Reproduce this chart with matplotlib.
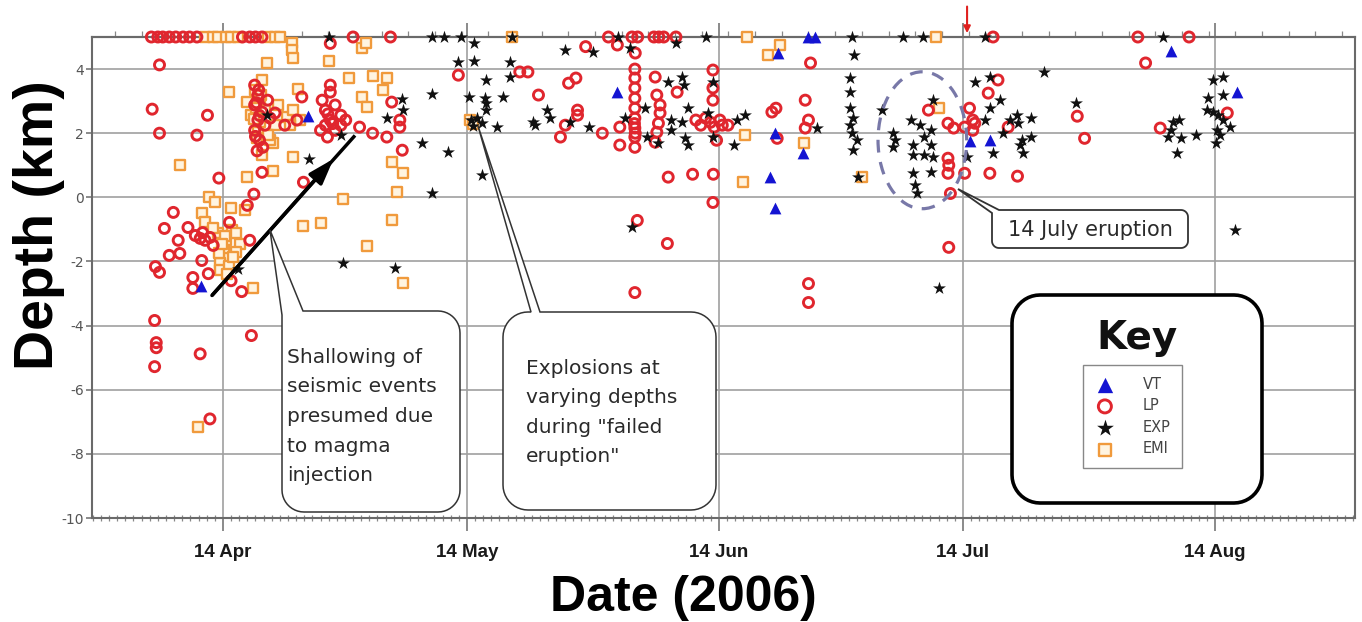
import numpy as np
import pandas as pd
import matplotlib
matplotlib.use("Agg")
import matplotlib.pyplot as plt
from matplotlib.patches import Polygon, Ellipse
from matplotlib.ticker import MultipleLocator

plt.rcParams["axes.unicode_minus"] = False

# dates are stored as days after 14 April 2006, depths in km
start = pd.Timestamp("2006-04-14")

vt_events = [
    (10.4, 2.55), (-2.75, -2.75), (48.45, 3.3), (68.2, 4.5), (72.0, 5.0), (72.8, 5.0),
    (67.9, 2.0), (71.3, 1.38), (67.3, 0.63), (67.9, -0.34), (94.3, 1.78), (91.9, 1.75),
    (116.55, 4.55), (124.75, 3.28),
]

lp_events = [
    (-8.8, 5), (-8.0, 5), (-7.4, 5), (-6.6, 5), (-5.8, 5), (-4.9, 5), (-4.1, 5), (-3.2, 5),
    (2.4, 5), (3.3, 5), (4.0, 5), (4.8, 5), (16.0, 5), (20.6, 5),
    (47.4, 5), (50.3, 5), (51.0, 5), (53.0, 5), (53.6, 5), (54.2, 5), (55.7, 5),
    (94.7, 5), (112.5, 5), (118.8, 5),
    (13.2, 4.8), (48.5, 4.75), (44.6, 4.7), (50.7, 4.5),
    (-7.8, 4.13), (-8.7, 2.75), (-1.9, 2.56), (-7.8, 2.0), (-3.2, 1.94), (-0.5, 0.6),
    (4.8, 0.78), (3.8, 0.1), (9.9, 0.47),
    (-6.1, -0.47), (-7.2, -0.97), (-4.3, -0.94), (-5.5, -1.34), (0.8, -0.78), (3.0, -0.25),
    (3.3, -1.34), (-6.6, -1.81), (-5.3, -1.75), (-2.6, -1.97), (-8.3, -2.16), (-7.8, -2.34),
    (-3.7, -2.5), (-1.8, -2.38), (1.0, -2.6), (2.3, -2.94), (-3.7, -2.84), (-8.4, -3.84),
    (3.5, -4.31), (-8.2, -4.53), (-8.2, -4.69), (-8.4, -5.28), (-2.8, -4.88), (-1.6, -6.91),
    (-3.4, -1.19), (-2.8, -1.28), (-2.2, -1.34), (-1.6, -1.25), (-1.2, -1.5), (-2.5, -1.1),
    (13.2, 3.5), (9.7, 3.13), (13.2, 3.28),
    (12.2, 3.03), (12.6, 2.72), (13.2, 2.41), (13.8, 2.88), (14.5, 2.56), (12.6, 2.25),
    (13.8, 2.09), (14.5, 2.25), (12.0, 2.09), (15.1, 2.41), (12.9, 2.6), (13.5, 2.3),
    (12.85, 1.88), (16.8, 2.19), (18.4, 2.0), (20.15, 1.88), (20.75, 2.97), (21.75, 2.41),
    (21.75, 2.19), (22.05, 1.47), (28.95, 3.81),
    (3.9, 3.5), (4.3, 3.19), (3.9, 2.88), (4.8, 2.66), (4.3, 2.41), (5.15, 2.25), (3.9, 2.09),
    (4.5, 1.78), (4.9, 1.56), (5.8, 2.47), (5.5, 3.03), (6.4, 2.63), (9.1, 2.41), (7.6, 2.25),
    (4.1, 2.95), (4.5, 2.55), (4.0, 1.9), (4.4, 3.35), (4.2, 1.45),
    (36.5, 3.91), (37.5, 3.91), (38.8, 3.19), (42.5, 3.56), (43.4, 3.72), (43.6, 2.72),
    (43.6, 2.56), (42.1, 2.25), (41.5, 1.88), (46.65, 2.0), (48.8, 2.19), (48.8, 1.63),
    (50.65, 4.0), (50.65, 3.72), (50.65, 3.41), (50.65, 3.09), (50.65, 2.78), (50.65, 2.47),
    (50.65, 2.16), (50.65, 1.88), (50.65, 1.56), (50.6, 2.3), (50.7, 2.0),
    (53.15, 3.75), (53.35, 3.19), (53.75, 2.88), (53.75, 2.63), (53.55, 2.31), (53.35, 2.03),
    (53.15, 1.72), (55.85, 3.28), (60.25, 3.97), (60.25, 3.41), (60.25, 3.03),
    (58.15, 2.41), (58.75, 2.25), (59.35, 2.47), (59.95, 2.34), (60.4, 2.19), (61.1, 2.41),
    (61.4, 2.25), (62.1, 2.25), (60.7, 1.78),
    (54.75, 0.63), (57.75, 0.72), (60.3, 0.72), (60.25, -0.16), (50.95, -0.72),
    (54.65, -1.44), (50.65, -2.97),
    (72.0, -2.69), (72.0, -3.28), (72.25, 4.19), (71.6, 3.03), (67.5, 2.66), (68.0, 2.78),
    (68.15, 1.84), (72.0, 2.41), (71.6, 2.16),
    (86.75, 2.72), (89.15, 2.31), (89.85, 2.16), (91.2, 2.19), (89.15, 1.22), (89.25, 1.0),
    (89.15, 0.75), (91.2, 0.75), (89.45, 0.12), (91.8, 2.78), (92.2, 2.41),
    (89.25, -1.56), (95.3, 3.66), (94.1, 3.25), (92.45, 2.31), (92.2, 2.09), (96.55, 2.19),
    (94.3, 0.75), (97.7, 0.66),
    (105.05, 2.53), (105.95, 1.84), (113.45, 4.19), (115.25, 2.16), (123.5, 2.63),
]

exp_events = [
    (5.4, 2.56), (10.6, 1.19), (14.5, 1.94), (20.15, 2.47), (22.05, 3.06), (22.15, 2.72),
    (13.0, 5), (1.8, -2.22), (14.8, -2.06), (21.15, -2.19),
    (24.5, 1.69), (27.65, 1.41), (25.75, 0.12), (25.75, 3.22), (31.9, 0.69),
    (25.75, 5), (27.15, 5), (29.25, 5), (30.9, 4.81), (28.95, 4.22), (30.9, 4.25), (35.5, 5),
    (35.3, 4.22), (35.3, 3.75), (32.4, 3.66), (32.2, 3.09), (32.4, 2.94), (30.25, 3.13),
    (34.4, 3.13), (32.4, 2.72), (31.2, 2.47), (31.8, 2.31), (30.45, 2.41), (30.8, 2.22),
    (33.7, 2.19), (38.1, 2.34), (39.9, 2.72), (40.25, 2.47), (38.4, 2.25), (42.1, 4.59),
    (42.7, 2.34), (45.0, 2.19), (45.45, 4.53), (48.55, 5), (50.05, 4.66),
    (51.9, 2.78), (49.45, 2.47), (52.15, 1.88), (53.55, 1.69), (56.5, 3.75), (54.75, 3.59),
    (56.65, 3.5), (57.15, 2.78), (55.05, 2.41), (56.5, 2.34), (55.05, 2.09), (56.85, 1.84),
    (57.15, 1.63), (55.65, 4.81), (59.35, 5), (60.25, 3.59), (59.6, 2.63), (60.2, 1.88),
    (62.9, 1.63), (64.2, 2.56), (63.2, 2.41), (50.25, -0.94),
    (77.35, 5), (77.65, 4.44), (77.05, 3.72), (77.05, 3.28), (77.05, 2.78), (77.45, 2.47),
    (77.05, 2.25), (77.35, 2.0), (77.95, 1.78), (77.45, 1.47), (78.05, 0.63),
    (81.05, 2.72), (82.45, 2.0), (82.65, 1.78), (82.45, 1.56), (83.65, 5), (86.05, 5),
    (73.1, 2.16),
    (87.25, 3.03), (84.55, 2.41), (85.75, 2.25), (87.05, 2.09), (84.85, 1.63), (86.15, 1.88),
    (87.05, 1.63), (84.85, 1.31), (86.15, 1.31), (87.25, 1.25), (84.85, 0.75), (87.05, 0.78),
    (85.15, 0.38), (85.35, 0.12), (88.05, -2.84),
    (93.7, 5), (100.9, 3.91), (94.3, 3.75), (92.45, 3.59), (95.55, 3.03), (94.3, 2.78),
    (93.7, 2.41), (97.7, 2.56), (99.3, 2.47), (97.8, 2.31), (96.8, 2.41), (95.9, 2.0),
    (98.3, 1.78), (99.3, 1.88), (98.0, 1.63), (98.4, 1.38), (94.7, 1.38), (91.45, 1.25),
    (104.95, 2.94),
    (115.65, 5), (116.85, 2.34), (117.55, 2.41), (116.55, 2.09), (116.25, 1.88),
    (117.75, 1.84), (119.65, 1.94), (117.35, 1.38),
    (121.75, 3.66), (123.0, 3.75), (123.0, 3.19), (121.15, 3.09), (121.05, 2.72),
    (121.75, 2.66), (122.35, 2.56), (123.0, 2.41), (122.25, 2.09), (122.65, 1.94),
    (123.85, 2.19), (122.05, 1.69), (124.45, -1.03),
]

emi_events = [
    (-2.15, 5), (-1.25, 5), (-0.55, 5), (0.35, 5), (1.05, 5), (1.8, 5), (5.5, 5), (6.4, 5),
    (7.0, 5), (35.5, 5), (64.4, 5), (87.65, 5),
    (8.5, 4.81), (8.5, 4.59), (8.6, 4.34), (5.4, 4.19), (13.0, 4.25), (17.05, 4.66),
    (17.65, 4.81), (15.5, 3.72), (18.45, 3.78), (20.15, 3.72), (19.65, 3.34), (17.05, 3.13),
    (17.75, 2.81), (9.25, 3.38),
    (7.9, 2.5), (8.6, 2.72), (9.5, 2.41), (8.25, 2.25), (0.8, 3.28), (2.9, 2.97), (4.8, 3.66),
    (3.9, 3.34), (6.1, 1.69), (4.8, 1.31), (6.1, 0.81), (2.9, 0.63), (8.6, 1.25), (-5.25, 1.0),
    (3.5, 2.56), (4.3, 2.09), (5.15, 2.72), (5.8, 1.78), (4.5, 3.03), (6.4, 2.25), (5.5, 1.94),
    (6.8, 2.88), (4.1, 2.8), (4.6, 2.35), (4.2, 1.85), (3.8, 2.45), (4.7, 3.2),
    (-1.75, 0.0), (-0.95, -0.16), (1.05, -0.34), (2.7, -0.41), (-2.55, -0.5), (-2.15, -0.78),
    (1.15, -1.03), (-0.65, -1.12), (2.05, -1.44), (0.1, -1.66), (0.8, -1.88), (-0.3, -2.06),
    (1.65, -1.72), (-0.3, -2.28), (0.35, -1.34), (-1.25, -0.97), (0.7, -2.13),
    (0.3, -1.2), (1.2, -1.85), (0.5, -2.4), (-0.5, -1.75), (1.6, -1.1), (-0.1, -1.45),
    (3.7, -2.84), (-3.05, -7.16), (9.9, -0.88), (12.0, -0.81), (14.8, -0.06), (20.75, 1.09),
    (22.15, 0.75), (21.4, 0.16), (20.75, -0.72), (17.75, -1.53), (22.15, -2.66),
    (30.4, 2.4), (30.7, 2.3),
    (64.2, 1.94), (63.9, 0.47), (68.5, 4.75), (67.0, 4.44), (71.4, 1.69), (78.55, 0.63),
    (88.05, 2.78),
]

month_dates = ["2006-04-14", "2006-05-14", "2006-06-14", "2006-07-14", "2006-08-14"]
month_labels = ["14 Apr", "14 May", "14 Jun", "14 Jul", "14 Aug"]
month_days = [(pd.Timestamp(d) - start).days for d in month_dates]

fig = plt.figure(figsize=(13.62, 6.22), dpi=100)
ax = fig.add_axes([92 / 1362, 104 / 622, 1263 / 1362, 481 / 622])
ax.set_axisbelow(True)

vt = np.array(vt_events).T
lp = np.array(lp_events).T
ex = np.array(exp_events).T
em = np.array(emi_events).T

h_em = ax.scatter(em[0], em[1], marker="s", s=44, facecolor="#fff4e0", edgecolor="#f09a3c",
                  linewidth=1.7, zorder=3, clip_on=False, label="EMI")
h_lp = ax.scatter(lp[0], lp[1], marker="o", s=52, facecolor="none", edgecolor="#e0262e",
                  linewidth=2.1, zorder=4, clip_on=False, label="LP")
h_ex = ax.scatter(ex[0], ex[1], marker="*", s=95, color="#111111", linewidth=0,
                  zorder=5, clip_on=False, label="EXP")
h_vt = ax.scatter(vt[0], vt[1], marker="^", s=72, color="#1414d2", linewidth=0,
                  zorder=6, clip_on=False, label="VT")

ax.set_xlim(-16.1, 139.2)
ax.set_ylim(-10, 5)

ax.set_xticks(month_days)
ax.set_xticklabels(month_labels, fontsize=13.5, fontweight="bold", family="Liberation Sans",
                   color="#1a1a1a")
ax.xaxis.set_minor_locator(MultipleLocator(1))
ax.yaxis.set_major_locator(MultipleLocator(2))
ax.tick_params(axis="x", which="major", direction="out", length=9, width=1.2,
               color="#777777", pad=10)
ax.tick_params(axis="x", which="minor", direction="inout", length=5, width=0.9,
               color="#888888")
ax.tick_params(axis="y", which="major", direction="out", length=4, width=1.2,
               color="#777777", labelsize=10, labelcolor="#555555", pad=2)
ax.grid(True, which="major", color="#a0a0a0", linewidth=1.2)
for sp in ax.spines.values():
    sp.set_color("#6a6a6a")
    sp.set_linewidth(1.5)

top = ax.secondary_xaxis("top")
top.set_xticks(month_days)
top.set_xticklabels([])
top.xaxis.set_minor_locator(MultipleLocator(3.28, offset=3.12))
top.tick_params(which="major", direction="out", length=10, width=1.2, color="#777777")
top.tick_params(which="minor", direction="out", length=4, width=0.9, color="#888888")
top.spines["top"].set_color("#6a6a6a")
top.spines["top"].set_linewidth(1.5)

ax.set_xlabel("Date (2006)", fontsize=36, fontweight="bold", family="Liberation Sans")
ax.xaxis.set_label_coords(0.468, -0.118)
ax.set_ylabel("Depth (km)", fontsize=40, fontweight="bold", family="Liberation Sans")
ax.yaxis.set_label_coords(-0.021, 0.609)

# shallowing arrow
ax.plot([-1.35, 16.24], [-3.06, 1.93], color="black", lw=2.5, solid_capstyle="butt", zorder=7)
ax.annotate("", xy=(13.6, 1.2), xytext=(-1.35, -3.06),
            arrowprops=dict(arrowstyle="-|>,head_length=1.2,head_width=0.4", color="black",
                            lw=2.5, mutation_scale=13, shrinkA=0, shrinkB=0), zorder=7)

# 14 July eruption marker arrow and dashed ellipse
ax.annotate("", xy=(91.5, 5.12), xytext=(91.5, 5.95),
            arrowprops=dict(arrowstyle="-|>", color="#e0201e", lw=1.5, mutation_scale=10,
                            shrinkA=0, shrinkB=0), annotation_clip=False)
ax.add_patch(Ellipse((86.0, 1.78), 10.9, 4.27, fill=False, edgecolor="#7878a8",
                     linestyle=(0, (4, 3)), lw=2.3, zorder=8))

# overlay in pixel coordinates for the callout boxes
ov = fig.add_axes([0, 0, 1, 1], zorder=5)
ov.set_xlim(0, 1362)
ov.set_ylim(622, 0)
ov.set_axis_off()


def bubble(x0, y0, x1, y1, r, wedge=None, corner=False, **kw):
    def arc(cx, cy, a0, a1):
        a = np.radians(np.linspace(a0, a1, 12))
        return np.column_stack([cx + r * np.cos(a), cy + r * np.sin(a)])
    parts = []
    if corner:
        parts.append(np.array(wedge, dtype=float))
    else:
        parts.append(arc(x0 + r, y0 + r, 180, 270))
        if wedge is not None:
            parts.append(np.array(wedge, dtype=float))
    parts.append(arc(x1 - r, y0 + r, 270, 360))
    parts.append(arc(x1 - r, y1 - r, 0, 90))
    parts.append(arc(x0 + r, y1 - r, 90, 180))
    ov.add_patch(Polygon(np.vstack(parts), closed=True, **kw))


box_kw = dict(facecolor="white", edgecolor="#333333", lw=1.1)
bubble(282, 311, 460, 512, 22, wedge=[(282, 315), (270, 230), (303, 311)], corner=True, **box_kw)
bubble(503, 312, 716, 510, 25, wedge=[(531, 312), (478, 126), (540, 312)], **box_kw)
bubble(992, 210, 1188, 248, 7, wedge=[(992, 213), (958, 189), (999, 210)], corner=True,
       facecolor="white", edgecolor="#333333", lw=1.3)
bubble(1012, 295, 1262, 503, 28, facecolor="white", edgecolor="black", lw=2.6)

txt_kw = dict(fontsize=14.5, color="#2a2a2a", family="DejaVu Sans", va="baseline", ha="left")
for i, line in enumerate(["Shallowing of", "seismic events", "presumed due", "to magma",
                          "injection"]):
    ov.text(287, 363 + 29.5 * i, line, **txt_kw)
for i, line in enumerate(["Explosions at", "varying depths", 'during "failed', 'eruption"']):
    ov.text(526, 374 + 29.3 * i, line, **txt_kw)
ov.text(1090, 236, "14 July eruption", fontsize=15, color="#2a2a2a", family="DejaVu Sans",
        va="baseline", ha="center")
ov.text(1137, 349, "Key", fontsize=28, fontweight="bold", family="DejaVu Sans",
        va="baseline", ha="center", color="#111111")

leg = fig.legend([h_vt, h_lp, h_ex, h_em], ["VT", "LP", "EXP", "EMI"],
                 loc="upper left", bbox_to_anchor=(1083 / 1362, 1 - 365 / 622),
                 frameon=True, fancybox=False, edgecolor="#6a6a6a", fontsize=10.5,
                 labelspacing=0.45, handletextpad=1.9, borderpad=0.8, borderaxespad=0,
                 markerscale=1.3, handlelength=1.4, labelcolor="#444444")
leg.get_frame().set_linewidth(1.0)
leg.set_zorder(20)

fig.savefig("out.png", dpi=100)
